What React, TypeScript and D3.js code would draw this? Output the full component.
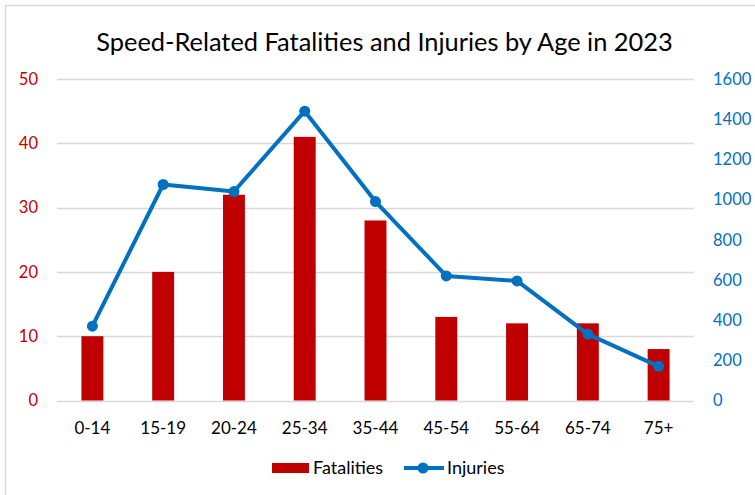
import { useEffect, useRef } from 'react';
import * as d3 from 'd3';

const ageGroups = ['0-14', '15-19', '20-24', '25-34', '35-44', '45-54', '55-64', '65-74', '75+'];
const fatalities = [10, 20, 32, 41, 28, 13, 12, 12, 8];
const injuries = [370, 1075, 1040, 1440, 990, 620, 595, 330, 170];
const leftTicks = [0, 10, 20, 30, 40, 50];
const rightTicks = [0, 200, 400, 600, 800, 1000, 1200, 1400, 1600];

const colours = {
  bar: '#C00000',
  line: '#0070C0',
  grid: '#d9d9d9',
  text: '#000000',
};
const font = 'Lato, Calibri, sans-serif';

const App = () => {
  const svgRef = useRef(null);

  useEffect(() => {
    const width = 755;
    const height = 495;

    const svg = d3.select(svgRef.current);
    svg.selectAll('*').remove();

    svg.attr('viewBox', `0 0 ${width} ${height}`);

    // outer frame, only left/top edges show
    svg
      .append('rect')
      .attr('x', 5.5)
      .attr('y', 5.5)
      .attr('width', 900)
      .attr('height', 700)
      .attr('fill', 'white')
      .attr('stroke', colours.grid)
      .attr('stroke-width', 1.5);

    svg
      .append('text')
      .attr('x', 384.5)
      .attr('y', 51)
      .attr('text-anchor', 'middle')
      .style('font-family', font)
      .style('font-size', '25.4px')
      .attr('fill', colours.text)
      .text('Speed-Related Fatalities and Injuries by Age in 2023');

    const plot = { left: 57, right: 694, top: 79, bottom: 400.5 };

    const xScale = d3
      .scaleBand()
      .domain(ageGroups)
      .range([plot.left, plot.right])
      .paddingInner(0.69)
      .paddingOuter(0.345);

    const yLeft = d3.scaleLinear().domain([0, 50]).range([plot.bottom, plot.top]);
    const yRight = d3.scaleLinear().domain([0, 1600]).range([plot.bottom, plot.top]);

    // gridlines
    svg
      .append('g')
      .selectAll('line')
      .data(leftTicks)
      .enter()
      .append('line')
      .attr('x1', plot.left)
      .attr('x2', plot.right)
      .attr('y1', (d) => Math.round(yLeft(d)) + 0.5)
      .attr('y2', (d) => Math.round(yLeft(d)) + 0.5)
      .attr('stroke', colours.grid)
      .attr('stroke-width', 1.3);

    // left axis labels
    svg
      .append('g')
      .selectAll('text')
      .data(leftTicks)
      .enter()
      .append('text')
      .attr('x', 38)
      .attr('y', (d) => yLeft(d))
      .attr('dy', '0.35em')
      .attr('text-anchor', 'end')
      .style('font-family', font)
      .style('font-size', '16.5px')
      .attr('fill', colours.bar)
      .text((d) => d);

    // right axis labels
    svg
      .append('g')
      .selectAll('text')
      .data(rightTicks)
      .enter()
      .append('text')
      .attr('x', 713)
      .attr('y', (d) => yRight(d))
      .attr('dy', '0.35em')
      .attr('text-anchor', 'start')
      .style('font-family', font)
      .style('font-size', '16.5px')
      .attr('fill', colours.line)
      .text((d) => d);

    // category labels
    svg
      .append('g')
      .selectAll('text')
      .data(ageGroups)
      .enter()
      .append('text')
      .attr('x', (d) => xScale(d) + xScale.bandwidth() / 2)
      .attr('y', 434)
      .attr('text-anchor', 'middle')
      .style('font-family', font)
      .style('font-size', '17px')
      .attr('fill', colours.text)
      .text((d) => d);

    // bars
    svg
      .append('g')
      .selectAll('rect')
      .data(ageGroups)
      .enter()
      .append('rect')
      .attr('x', (d) => xScale(d))
      .attr('y', (d, i) => yLeft(fatalities[i]))
      .attr('width', xScale.bandwidth())
      .attr('height', (d, i) => yLeft(0) - yLeft(fatalities[i]))
      .attr('fill', colours.bar);

    // injuries line
    const lineGenerator = d3
      .line()
      .x((i) => xScale(ageGroups[i]) + xScale.bandwidth() / 2)
      .y((i) => yRight(injuries[i]));

    const I = d3.range(ageGroups.length);

    svg
      .append('path')
      .attr('fill', 'none')
      .attr('stroke', colours.line)
      .attr('stroke-width', 4)
      .attr('stroke-linejoin', 'round')
      .attr('d', lineGenerator(I));

    svg
      .append('g')
      .selectAll('circle')
      .data(I)
      .enter()
      .append('circle')
      .attr('cx', (i) => xScale(ageGroups[i]) + xScale.bandwidth() / 2)
      .attr('cy', (i) => yRight(injuries[i]))
      .attr('r', 5.5)
      .attr('fill', colours.line);

    // legend
    const legend = svg.append('g');
    legend
      .append('rect')
      .attr('x', 272)
      .attr('y', 463)
      .attr('width', 37)
      .attr('height', 10)
      .attr('fill', colours.bar);
    legend
      .append('text')
      .attr('x', 313)
      .attr('y', 474)
      .style('font-family', font)
      .style('font-size', '18px')
      .attr('fill', colours.text)
      .text('Fatalities');
    legend
      .append('line')
      .attr('x1', 404)
      .attr('x2', 444)
      .attr('y1', 468)
      .attr('y2', 468)
      .attr('stroke', colours.line)
      .attr('stroke-width', 4);
    legend
      .append('circle')
      .attr('cx', 423)
      .attr('cy', 468)
      .attr('r', 5.5)
      .attr('fill', colours.line);
    legend
      .append('text')
      .attr('x', 447)
      .attr('y', 474)
      .style('font-family', font)
      .style('font-size', '18px')
      .attr('fill', colours.text)
      .text('Injuries');
  }, []);

  return (
    <div style={{ position: 'absolute', left: 0, top: 0 }}>
      <svg ref={svgRef} width={755} height={495} style={{ display: 'block' }}></svg>
    </div>
  );
};

export default App;
